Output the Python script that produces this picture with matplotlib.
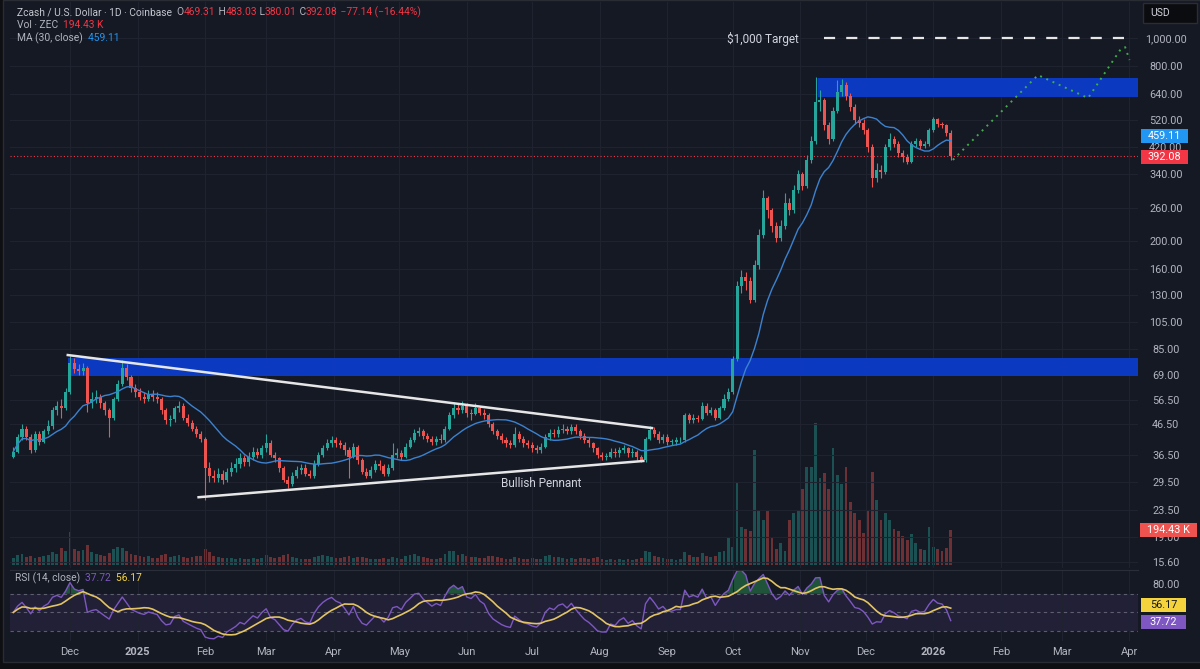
import numpy as np
import pandas as pd
import matplotlib
matplotlib.use("Agg")
import matplotlib.pyplot as plt
import matplotlib.dates as mdates
from matplotlib.patches import Rectangle
from matplotlib.ticker import NullLocator

plt.rcParams['font.family'] = ['Roboto', 'DejaVu Sans']

# --- Datos: velas de 2 dias desde 2024-11-05 (ZEC/USD) ---
first_day = "2024-11-05"
first_open = 36.0

closes = [
    37.5, 42, 45, 42, 38, 43, 40.5, 44, 46, 52,
    54, 53, 60, 76, 72, 71, 73, 55, 57, 58,
    55, 52, 49, 57, 64, 73, 68, 62, 60, 58,
    57, 59, 58, 57, 52, 48, 48.5, 53, 54, 49,
    47, 45, 43, 41.5, 33, 31, 30.5, 31.5, 30, 32,
    33, 34, 35.5, 34.5, 36, 37.5, 36.5, 38.5, 40, 36.5,
    35.5, 33, 30, 29, 31, 32.5, 33, 31.5, 31, 34,
    36.5, 38.5, 40, 41, 40, 39.5, 38, 36, 39, 35,
    32, 31, 32.5, 34, 33.5, 31.5, 33, 36.5, 37, 36,
    39, 41, 43.5, 44, 42.5, 41.5, 40.5, 41.5, 41, 45,
    50, 53, 52, 54, 51, 50.5, 53, 51, 50, 46.5,
    44, 42.5, 41, 40, 39.5, 43, 41.5, 40, 39.5, 38.5,
    38, 39, 42, 43.5, 43, 44.5, 45, 44, 45.5, 44,
    42.5, 41, 40, 38.5, 36.5, 36, 36, 37.5, 37, 38,
    38.5, 37, 37.5, 36, 35, 41.5, 44.5, 43, 41, 42,
    40.5, 40.5, 41, 41, 50, 48, 49, 48.5, 54, 51,
    52, 49, 53, 57, 60, 78, 140, 150, 145, 125,
    165, 210, 280, 255, 225, 205, 225, 270, 255, 300,
    340, 310, 380, 440, 600, 610, 500, 450, 560, 650,
    690, 630, 580, 520, 510, 480, 420, 330, 350, 345,
    420, 450, 430, 400, 390, 375, 430, 440, 425, 430,
    480, 525, 505, 500, 469.31, 392.08,
]

highs = [
    39, 43, 46.5, 46, 43, 44, 44, 45, 48, 53.5,
    56, 57, 62, 80, 79, 75, 76, 74, 60, 61,
    59, 56, 53, 58, 66, 77.5, 75, 69, 64, 62,
    60, 61, 61, 60, 58, 53, 50, 54, 56, 55,
    50.5, 48, 46, 44, 42, 34.5, 32.5, 33, 32.5, 33,
    34.5, 35.5, 37, 36.5, 37.5, 39, 38.5, 39.5, 43, 41,
    37.5, 36, 33.5, 31, 32, 33.5, 34, 34, 32.5, 35,
    37.5, 39.5, 41.5, 42.5, 42, 41, 40.5, 39, 40, 39.5,
    35.5, 33, 33.5, 35, 35, 34, 34, 40, 38.5, 38,
    40, 42, 45, 45.5, 45, 43.5, 42.5, 42.5, 43, 46,
    51.5, 55.5, 55, 56, 55, 52.5, 55, 54, 52.5, 51,
    47.5, 45, 43.5, 42, 41, 45.5, 44, 42.5, 41, 40.5,
    39.5, 40, 43, 45, 45, 46, 46.5, 46, 46.5, 46.5,
    45, 43.5, 42, 40.5, 39, 37.5, 37, 38.5, 38.5, 39,
    39.5, 39, 38.5, 38, 36.5, 42, 46, 45.5, 44, 43,
    43, 41.5, 42, 42, 51, 51, 50.5, 50, 55.5, 55,
    53.5, 53, 54, 59, 62, 80, 145, 158, 156, 150,
    172, 220, 300, 285, 260, 232, 235, 292, 280, 312,
    350, 345, 395, 460, 735, 660, 620, 515, 580, 716,
    720, 705, 645, 590, 540, 525, 490, 430, 370, 365,
    430, 470, 460, 440, 410, 398, 440, 452, 447, 440,
    490, 535, 530, 515, 505, 483.03,
]

lows = [
    35.5, 37, 41, 41, 37, 37.5, 39.5, 40, 43, 45,
    50, 49, 52, 59, 70, 69, 69, 51.5, 53, 55,
    53, 50, 42, 48, 56, 63, 66, 60, 58, 56.5,
    55, 56, 56, 55, 50.5, 46.5, 46, 47.5, 51.5, 48,
    46, 44, 42, 40.5, 25.5, 29.5, 29.5, 29.5, 29, 29.5,
    31, 32, 33, 33.5, 33.5, 35, 35.5, 35.5, 37.5, 36,
    34.5, 32, 29.5, 28, 28.5, 30.5, 31.5, 31, 30.5, 30.5,
    33.5, 36, 38, 39, 39, 38.5, 36.5, 30.5, 35.5, 34,
    31.5, 30.5, 30.5, 32, 32.5, 31, 31, 32.5, 35.5, 35,
    35.5, 38.5, 40.5, 42.5, 41.5, 40.5, 39.5, 39.5, 40, 40.5,
    44.5, 49, 50.5, 51, 49.5, 48, 50, 50, 48.5, 45.5,
    43, 41.5, 40, 39, 38.5, 39, 40.5, 39, 38.5, 37.5,
    37, 37, 38.5, 41, 42, 42, 43.5, 43, 43, 43,
    41.5, 40, 39, 37.5, 35.5, 35, 35, 35.5, 36, 36,
    37, 36, 36, 35, 34.5, 34.5, 41, 42, 40, 40,
    39.5, 39.5, 39.5, 40, 40.5, 47, 47, 47.5, 48, 50,
    50, 48, 48.5, 52, 56, 59, 77, 132, 135, 122,
    123, 160, 205, 240, 215, 198, 200, 220, 245, 250,
    292, 300, 305, 372, 430, 560, 480, 430, 440, 550,
    630, 610, 560, 505, 495, 465, 405, 306, 318, 330,
    340, 410, 420, 390, 375, 368, 370, 420, 415, 418,
    425, 475, 495, 490, 460, 380.01,
]

volumes_k = [
    40, 55, 60, 45, 50, 40, 45, 50, 55, 70,
    60, 95, 80, 183, 90, 75, 85, 110, 70, 60,
    55, 50, 65, 90, 100, 95, 80, 60, 55, 50,
    45, 50, 40, 40, 55, 60, 45, 50, 55, 45,
    40, 45, 50, 50, 90, 70, 50, 45, 40, 40,
    40, 35, 40, 35, 35, 40, 35, 40, 55, 45,
    40, 45, 55, 60, 45, 40, 35, 35, 35, 45,
    50, 55, 50, 45, 40, 40, 45, 50, 40, 45,
    45, 40, 35, 35, 35, 40, 35, 45, 40, 35,
    50, 55, 60, 50, 45, 40, 35, 35, 40, 60,
    80, 75, 55, 60, 50, 45, 45, 40, 40, 50,
    50, 45, 40, 35, 35, 45, 40, 35, 35, 40,
    35, 35, 50, 55, 45, 45, 40, 35, 40, 35,
    40, 40, 35, 40, 45, 35, 30, 35, 30, 35,
    30, 35, 30, 35, 40, 75, 70, 50, 45, 40,
    35, 35, 30, 35, 70, 55, 45, 45, 65, 50,
    45, 50, 70, 80, 150, 100, 460, 210, 200, 190,
    640, 300, 250, 300, 150, 90, 120, 80, 250, 290,
    300, 420, 545, 545, 790, 480, 510, 420, 650, 500,
    450, 545, 350, 290, 250, 180, 300, 515, 360, 250,
    290, 250, 200, 190, 160, 140, 170, 120, 90, 85,
    210, 100, 90, 80, 95, 194.43,
]

price_ticks = [1000, 800, 640, 520, 420, 340, 260, 200, 160, 130, 105,
               85, 69, 56.5, 46.5, 36.5, 29.5, 23.5, 19.0, 15.6]
month_labels = ['Dec', '2025', 'Feb', 'Mar', 'Apr', 'May', 'Jun', 'Jul', 'Aug',
                'Sep', 'Oct', 'Nov', 'Dec', '2026', 'Feb', 'Mar', 'Apr']

# zonas azules (precio inferior, precio superior, fecha de inicio)
zone_low = (68.5, 79.0, "2024-11-30")
zone_high = (626.0, 727.0, "2025-11-09")
# banderin
pennant_upper_dates = ["2024-11-30", "2025-08-25"]
pennant_upper_prices = [80.7, 45.2]
pennant_lower_dates = ["2025-01-29", "2025-08-21"]
pennant_lower_prices = [26.1, 34.8]
# objetivo y proyeccion
target_price = 1000
target_dates = ["2025-11-12", "2026-04-02"]
proj_dates = ["2026-01-10", "2026-02-18", "2026-03-13", "2026-03-28", "2026-03-30", "2026-04-01"]
proj_prices = [380, 745, 621, 916, 930, 840]
last_close = 392.08

# --- colores ---
BG = '#151924'
FRAME = '#0e0f12'
GRID = '#1f2330'
TXT = '#b2b5be'
UP = '#26a69a'
DOWN = '#ef5350'
ZONE = '#0b3bc9'

W, H = 1200, 669


def fx(x):
    return x / W


def fy(y):
    return 1 - y / H


# --- preparar series ---
c = np.array(closes, dtype=float)
o = np.concatenate([[first_open], c[:-1]])
hi = np.array(highs, dtype=float)
lo = np.array(lows, dtype=float)
vol = np.array(volumes_k, dtype=float)
dates = pd.date_range(first_day, periods=len(c), freq="2D")
xd = mdates.date2num(dates.to_pydatetime())
is_up = c >= o

ma = pd.Series(c).rolling(15, min_periods=1).mean().values  # 30 dias = 15 velas


def rsi(values, n):
    # RSI de Wilder, arrancando neutro (50) porque no hay historia previa
    d = np.diff(values, prepend=values[0])
    seed = np.mean(np.abs(d[1:n + 1])) / 2
    avg_up, avg_dn = seed, seed
    out = []
    for step in d:
        avg_up = (avg_up * (n - 1) + max(step, 0)) / n
        avg_dn = (avg_dn * (n - 1) + max(-step, 0)) / n
        out.append(100 - 100 / (1 + avg_up / max(avg_dn, 1e-9)))
    return np.array(out)


rsi_vals = rsi(c, 10)
rsi_ma = pd.Series(rsi_vals).rolling(8, min_periods=1).mean().values


def dnum(s):
    return mdates.date2num(pd.Timestamp(s).to_pydatetime())


base = dnum("2024-12-01")
x_left, x_right = base - 27.5, base + 489.9

# --- figura ---
fig = plt.figure(figsize=(12, 6.69), dpi=100, facecolor=FRAME)
fig.add_artist(Rectangle((fx(3), fy(662)), 1, 662 / H, transform=fig.transFigure,
                         fc=BG, ec='#2a2c33', lw=1, zorder=0))

ax = fig.add_axes([fx(10), fy(568), fx(1128), 566 / H])
axv = ax.twinx()
axr = fig.add_axes([fx(10), fy(641), fx(1128), 71 / H], sharex=ax)

ax.set_zorder(axv.get_zorder() + 1)
for a in (ax, axv, axr):
    a.patch.set_visible(False)
    for sp in a.spines.values():
        sp.set_visible(False)

# volumen
vol_colors = np.where(is_up, UP, DOWN)
axv.bar(xd, vol, width=1.3, color=vol_colors, alpha=0.4, linewidth=0)
axv.set_ylim(-17, 3125)
axv.set_yticks([])

# precio (escala log)
ax.set_yscale('log')
ax.set_ylim(14.88, 1331)
ax.set_xlim(x_left, x_right)

ax.add_patch(Rectangle((dnum(zone_low[2]), zone_low[0]), x_right - dnum(zone_low[2]),
                       zone_low[1] - zone_low[0], fc=ZONE, ec='none', alpha=0.95, zorder=1))
ax.add_patch(Rectangle((dnum(zone_high[2]), zone_high[0]), x_right - dnum(zone_high[2]),
                       zone_high[1] - zone_high[0], fc=ZONE, ec='none', alpha=0.95, zorder=1))

ax.axhline(last_close, color='#f23645', lw=0.8, ls=(0, (1, 2)), zorder=2)

colors = np.where(is_up, UP, DOWN)
ax.vlines(xd, lo, hi, color=colors, lw=0.8, zorder=3)
body_h = np.maximum(np.abs(c - o), c * 0.004)
ax.bar(xd, body_h, bottom=np.minimum(o, c), width=1.4, color=colors, linewidth=0, zorder=3)

ax.plot(xd, ma, color='#3b82d0', lw=1.0, zorder=4)

ax.plot([dnum(d) for d in pennant_upper_dates], pennant_upper_prices, color='#e6e6e6', lw=1.8, zorder=5)
ax.plot([dnum(d) for d in pennant_lower_dates], pennant_lower_prices, color='#e6e6e6', lw=1.8, zorder=5)
ax.text(dnum("2025-07-05"), 29.2, "Bullish Pennant", color='#d1d4dc', fontsize=8.5,
        ha='center', va='center', zorder=6)

ax.plot([dnum(d) for d in target_dates], [target_price] * 2, color='#e6e6e6', lw=1.6,
        ls=(0, (5, 5)), zorder=5)
ax.text(dnum("2025-10-15"), target_price * 0.99, "$1,000 Target", color='#d1d4dc',
        fontsize=8.5, ha='center', va='center', zorder=6)

ax.plot([dnum(d) for d in proj_dates], proj_prices, color='#3fae4a', lw=1.4,
        ls=(0, (1, 2.5)), zorder=5)

# ejes de precio
ax.yaxis.set_minor_locator(NullLocator())
ax.set_yticks(price_ticks)
ax.set_yticklabels([f"{t:,.2f}" for t in price_ticks])
ax.yaxis.tick_right()
ax.tick_params(axis='y', length=0, pad=20, labelsize=7.8, labelcolor=TXT)
for lbl in ax.get_yticklabels():
    lbl.set_horizontalalignment('center')
ax.tick_params(axis='x', length=0, labelbottom=False)
ax.grid(True, color=GRID, lw=0.8)
ax.set_axisbelow(True)

# --- RSI ---
axr.set_ylim(19.5, 95.3)
axr.axhspan(30, 70, color='#7e57c2', alpha=0.12, lw=0)
for lvl in (70, 50, 30):
    axr.axhline(lvl, color='#787b86', lw=0.8, ls=(0, (3, 3)), alpha=0.7)
axr.fill_between(xd, 70, rsi_vals, where=rsi_vals > 70, color='#2e9e55', alpha=0.45,
                 interpolate=True, lw=0)
axr.plot(xd, rsi_vals, color='#7e57c2', lw=1.0)
axr.plot(xd, rsi_ma, color='#e3c463', lw=1.2)
axr.yaxis.tick_right()
axr.set_yticks([80])
axr.set_yticklabels(['80.00'])
axr.tick_params(axis='y', length=0, pad=20, labelsize=7.8, labelcolor=TXT)
for lbl in axr.get_yticklabels():
    lbl.set_horizontalalignment('center')
axr.spines['top'].set_visible(True)
axr.spines['top'].set_color('#2a2e39')

months = pd.date_range("2024-12-01", periods=len(month_labels), freq="MS")
axr.set_xticks(mdates.date2num(months.to_pydatetime()))
axr.set_xticklabels(month_labels)
axr.tick_params(axis='x', length=0, pad=4, labelsize=8, labelcolor=TXT)
for lbl in axr.get_xticklabels():
    if lbl.get_text() in ('2025', '2026'):
        lbl.set_fontweight('bold')
axr.grid(True, axis='x', color=GRID, lw=0.8)
ax.grid(True, axis='x', color=GRID, lw=0.8)
axr.set_xlim(x_left, x_right)


# --- textos de cabecera (trozos encadenados de distinto color) ---
def chain(x, y, parts, size=7.4):
    t = fig.text(fx(x), fy(y), parts[0][0], color=parts[0][1], fontsize=size,
                 ha='left', va='center')
    for s, col in parts[1:]:
        t = ax.annotate(s, xy=(1, 0.5), xycoords=t, xytext=(0, 0), textcoords='offset points',
                        color=col, fontsize=size, ha='left', va='center', annotation_clip=False)
    return t


RED = '#f23645'
chain(17, 12, [("Zcash / U.S. Dollar · 1D · Coinbase", '#c3c6ce'),
               ("  O", TXT), ("469.31", RED), (" H", TXT), ("483.03", RED),
               (" L", TXT), ("380.01", RED), (" C", TXT), ("392.08", RED),
               (" −77.14 (−16.44%)", RED)])
chain(17, 25, [("Vol · ZEC", TXT), ("  194.43 K", RED)])
chain(17, 38, [("MA (30, close)", TXT), ("  459.11", '#2196f3')])
chain(15, 578, [("RSI (14, close)", TXT), ("  37.72", '#7e57c2'), ("  56.17", '#f5d33c')])


# --- etiquetas del eje derecho ---
def tag(x0, x1, y0, y1, text, fc, tc='white'):
    fig.add_artist(Rectangle((fx(x0), fy(y1)), fx(x1 - x0), (y1 - y0) / H,
                             transform=fig.transFigure, fc=fc, ec='none', zorder=10))
    fig.text(fx((x0 + x1) / 2), fy((y0 + y1) / 2), text, color=tc, fontsize=7.8,
             ha='center', va='center', zorder=11)


tag(1141, 1188, 129, 143, "459.11", '#2196f3')
tag(1141, 1188, 150, 164, "392.08", '#f23645')
tag(1140, 1197, 523, 537, "194.43 K", '#ef5350')
tag(1141, 1186, 598, 612, "56.17", '#f5d33c', '#131722')
tag(1141, 1186, 615, 629, "37.72", '#7e57c2')

fig.add_artist(Rectangle((fx(1143), fy(23)), fx(54), 20 / H, transform=fig.transFigure,
                         fc='#0b0c0f', ec='#2a2d35', lw=1, zorder=10))
fig.text(fx(1160), fy(13), "USD", color='#d1d4dc', fontsize=7.5, ha='center', va='center', zorder=11)

fig.savefig("out.png", dpi=100, facecolor=fig.get_facecolor())
